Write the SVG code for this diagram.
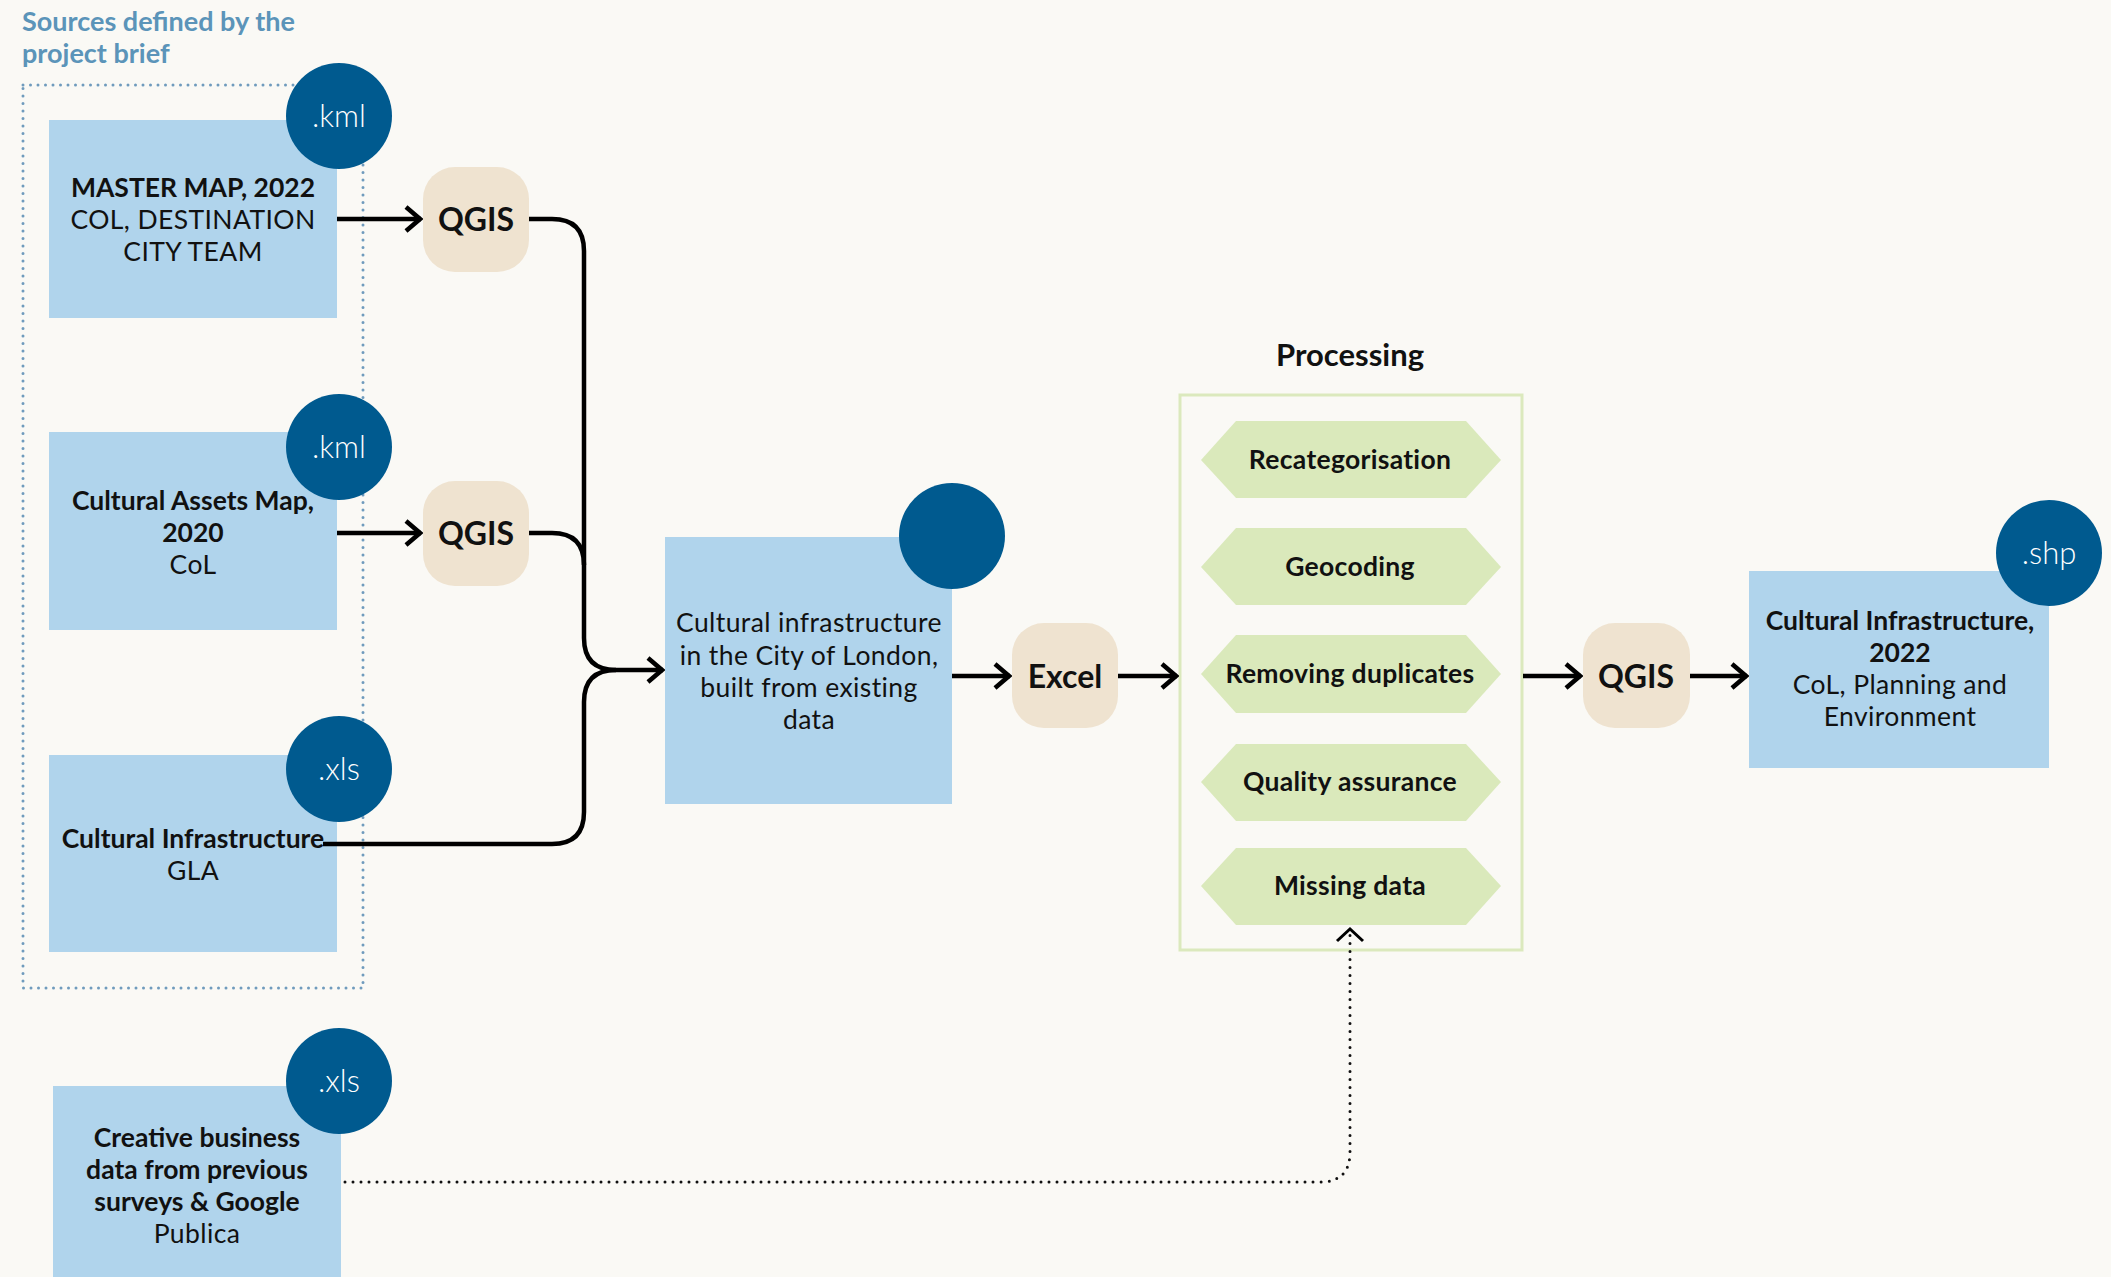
<svg xmlns="http://www.w3.org/2000/svg" width="2111" height="1277" viewBox="0 0 2111 1277">
<defs>
<style>
text{font-family:Lato,"Open Sans","DejaVu Sans",sans-serif;fill:#111;text-anchor:middle}
.box{fill:#b0d4ec}
.dot{fill:#005a8f}
.tool{fill:#efe3d0}
.hex{fill:#dae9bb}
.b{font-weight:700;font-size:26.5px}
.r{font-weight:400;font-size:26.5px;letter-spacing:0.4px}
.ct{fill:#fff;font-size:31px;font-weight:300}
.tl{font-weight:700;font-size:32px}
.hx{font-weight:700;font-size:26.5px;letter-spacing:0.3px}
.conn{fill:none;stroke:#000;stroke-width:4.5}
.dotted{fill:none;stroke:#111;stroke-width:3;stroke-linecap:round;stroke-dasharray:0 8}
</style>
<marker id="arr" markerUnits="userSpaceOnUse" viewBox="0 0 20 28" refX="18" refY="14" markerWidth="20" markerHeight="28" orient="auto">
<path d="M3,2 L17,14 L3,26" fill="none" stroke="#000" stroke-width="4.5"/>
</marker>
</defs>
<rect width="2111" height="1277" fill="#faf9f5"/>

<g id="sources-group">
<text x="22" y="31" style="text-anchor:start;font-size:27px;font-weight:700;fill:#5b94b9">Sources defined by the</text>
<text x="22" y="63" style="text-anchor:start;font-size:27px;font-weight:700;fill:#5b94b9">project brief</text>
<rect x="23" y="85" width="340" height="903" fill="none" stroke="#6f9bbd" stroke-width="3" stroke-linecap="round" stroke-dasharray="0 7.5"/>
</g>

<g id="master-map">
<rect class="box" x="49" y="120" width="288" height="198"/>
<circle class="dot" cx="339" cy="116" r="53"/>
<text class="ct" x="339" y="127">.kml</text>
<text class="b" x="193" y="197">MASTER MAP, 2022</text>
<text class="r" x="193" y="229">COL, DESTINATION</text>
<text class="r" x="193" y="261">CITY TEAM</text>
</g>

<g id="cultural-assets">
<rect class="box" x="49" y="432" width="288" height="198"/>
<circle class="dot" cx="339" cy="447" r="53"/>
<text class="ct" x="339" y="458">.kml</text>
<text class="b" x="193" y="510">Cultural Assets Map,</text>
<text class="b" x="193" y="542">2020</text>
<text class="r" x="193" y="574">CoL</text>
</g>

<g id="cultural-infra-gla">
<rect class="box" x="49" y="755" width="288" height="197"/>
<circle class="dot" cx="339" cy="769" r="53"/>
<text class="ct" x="339" y="780">.xls</text>
<text class="b" x="193" y="848">Cultural Infrastructure</text>
<text class="r" x="193" y="880">GLA</text>
</g>

<g id="creative-business">
<rect class="box" x="53" y="1086" width="288" height="200"/>
<circle class="dot" cx="339" cy="1081" r="53"/>
<text class="ct" x="339" y="1092">.xls</text>
<text class="b" x="197" y="1147">Creative business</text>
<text class="b" x="197" y="1179">data from previous</text>
<text class="b" x="197" y="1211">surveys &amp; Google</text>
<text class="r" x="197" y="1243">Publica</text>
</g>

<g id="qgis-1">
<rect class="tool" x="423" y="167" width="106" height="105" rx="32"/>
<text class="tl" x="476" y="231">QGIS</text>
</g>

<g id="qgis-2">
<rect class="tool" x="423" y="481" width="106" height="105" rx="32"/>
<text class="tl" x="476" y="545">QGIS</text>
</g>

<g id="central">
<rect class="box" x="665" y="537" width="287" height="267"/>
<circle class="dot" cx="952" cy="536" r="53"/>
<text class="r" x="809" y="632">Cultural infrastructure</text>
<text class="r" x="809" y="665">in the City of London,</text>
<text class="r" x="809" y="697">built from existing</text>
<text class="r" x="809" y="729">data</text>
</g>

<g id="excel">
<rect class="tool" x="1012" y="623" width="106" height="105" rx="32"/>
<text class="tl" x="1065" y="688">Excel</text>
</g>

<g id="processing">
<text x="1350" y="366" style="font-size:31px;font-weight:700">Processing</text>
<rect x="1180" y="395" width="342" height="555" fill="none" stroke="#dbe9bd" stroke-width="3"/>
<polygon class="hex" points="1201,460 1236,421 1466,421 1501,460 1466,498 1236,498"/>
<text class="hx" x="1350" y="469">Recategorisation</text>
<polygon class="hex" points="1201,567 1236,528 1466,528 1501,567 1466,605 1236,605"/>
<text class="hx" x="1350" y="576">Geocoding</text>
<polygon class="hex" points="1201,674 1236,635 1466,635 1501,674 1466,713 1236,713"/>
<text class="hx" x="1350" y="683">Removing duplicates</text>
<polygon class="hex" points="1201,782 1236,744 1466,744 1501,782 1466,821 1236,821"/>
<text class="hx" x="1350" y="791">Quality assurance</text>
<polygon class="hex" points="1201,886 1236,848 1466,848 1501,886 1466,925 1236,925"/>
<text class="hx" x="1350" y="895">Missing data</text>
</g>

<g id="qgis-3">
<rect class="tool" x="1583" y="623" width="107" height="105" rx="32"/>
<text class="tl" x="1636" y="688">QGIS</text>
</g>

<g id="final">
<rect class="box" x="1749" y="571" width="300" height="197"/>
<circle class="dot" cx="2049" cy="553" r="53"/>
<text class="ct" x="2049" y="564">.shp</text>
<text class="b" x="1900" y="630">Cultural Infrastructure,</text>
<text class="b" x="1900" y="662">2022</text>
<text class="r" x="1900" y="694">CoL, Planning and</text>
<text class="r" x="1900" y="726">Environment</text>
</g>

<g id="connectors">
<path class="conn" d="M337,219 H421" marker-end="url(#arr)"/>
<path class="conn" d="M337,533 H421" marker-end="url(#arr)"/>
<path class="conn" d="M529,219 H552 Q584,219 584,251 V638 Q584,670 616,670 H663" marker-end="url(#arr)"/>
<path class="conn" d="M529,533 H552 Q584,533 584,565"/>
<path class="conn" d="M323,844 H552 Q584,844 584,812 V702 Q584,670 616,670"/>
<path class="conn" d="M952,676 H1010" marker-end="url(#arr)"/>
<path class="conn" d="M1118,676 H1177" marker-end="url(#arr)"/>
<path class="conn" d="M1523,676 H1581" marker-end="url(#arr)"/>
<path class="conn" d="M1690,676 H1747" marker-end="url(#arr)"/>
<path class="dotted" d="M345,1182 H1320 Q1350,1182 1350,1152 V932"/>
<path d="M1337,941 L1350,929 L1363,941" fill="none" stroke="#000" stroke-width="3"/>
</g>
</svg>
